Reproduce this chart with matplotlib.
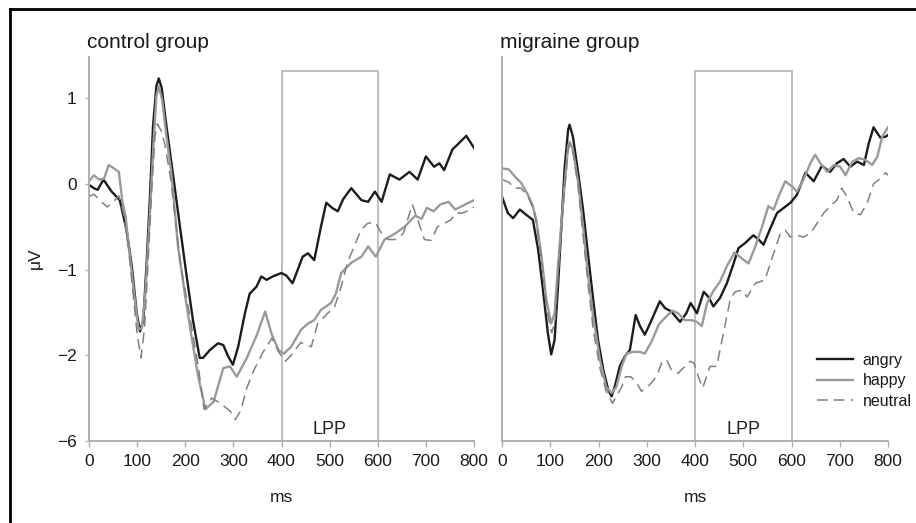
import numpy as np
import matplotlib
matplotlib.use("Agg")
import matplotlib.pyplot as plt
from matplotlib.lines import Line2D

plt.rcParams['font.family'] = ['Liberation Sans', 'DejaVu Sans']

# ---- control group (ms, µV) ----
ctrl_angry_ms = [0, 10, 18, 30, 47, 64, 78, 89, 99, 106, 113, 120, 127, 133, 140, 145, 151, 161, 175, 189,
                 203, 216, 230, 237, 251, 268, 279, 289, 299, 310, 324, 334, 348, 358, 369, 382, 400, 410, 423,
                 444, 455, 468, 482, 493, 505, 517, 528, 545, 566, 580, 594, 608, 625, 645, 666, 683, 700, 717,
                 728, 738, 755, 766, 784, 800]
ctrl_angry_uv = [-0.01, -0.05, -0.07, 0.05, -0.09, -0.19, -0.54, -0.96, -1.50, -1.72, -1.59, -0.89, -0.11, 0.67,
                 1.14, 1.23, 1.12, 0.67, 0.09, -0.50, -1.08, -1.59, -2.03, -2.03, -1.94, -1.86, -1.88, -2.01,
                 -2.11, -1.90, -1.51, -1.28, -1.20, -1.08, -1.12, -1.08, -1.04, -1.07, -1.16, -0.85, -0.81,
                 -0.89, -0.50, -0.22, -0.28, -0.32, -0.18, -0.05, -0.19, -0.21, -0.09, -0.21, 0.11, 0.05, 0.14,
                 0.05, 0.32, 0.20, 0.24, 0.16, 0.40, 0.46, 0.56, 0.42]

ctrl_happy_ms = [0, 10, 21, 31, 41, 52, 62, 69, 76, 86, 96, 103, 110, 117, 127, 134, 140, 145, 152, 161, 171,
                 185, 199, 213, 227, 242, 259, 279, 293, 307, 328, 349, 366, 380, 394, 405, 420, 441, 455, 468,
                 482, 503, 513, 524, 545, 566, 580, 596, 614, 636, 656, 678, 691, 702, 716, 730, 747, 761, 775,
                 789, 800]
ctrl_happy_uv = [0.03, 0.10, 0.05, 0.06, 0.22, 0.18, 0.14, -0.19, -0.38, -0.89, -1.39, -1.70, -1.68, -1.28,
                 -0.30, 0.47, 1.02, 1.14, 0.98, 0.55, 0.13, -0.73, -1.28, -1.78, -2.25, -2.63, -2.54, -2.15,
                 -2.13, -2.25, -2.03, -1.76, -1.49, -1.76, -1.94, -1.98, -1.90, -1.70, -1.63, -1.59, -1.47,
                 -1.39, -1.28, -1.04, -0.92, -0.85, -0.73, -0.85, -0.65, -0.58, -0.50, -0.37, -0.41, -0.28,
                 -0.32, -0.24, -0.21, -0.30, -0.26, -0.22, -0.19]

ctrl_neutral_ms = [0, 10, 24, 38, 52, 62, 72, 82, 92, 100, 108, 115, 122, 130, 137, 142, 150, 158, 170, 190,
                   213, 227, 239, 255, 273, 293, 304, 315, 328, 342, 362, 380, 394, 408, 420, 440, 462, 475,
                   496, 510, 524, 537, 551, 565, 579, 595, 608, 622, 636, 653, 672, 683, 697, 711, 724, 738,
                   752, 762, 776, 790, 800]
ctrl_neutral_uv = [-0.15, -0.12, -0.20, -0.27, -0.20, -0.14, -0.35, -0.75, -1.30, -1.75, -2.03, -1.70, -1.00,
                   -0.10, 0.55, 0.70, 0.62, 0.45, 0.05, -0.93, -1.66, -2.13, -2.63, -2.50, -2.56, -2.65, -2.75,
                   -2.65, -2.38, -2.18, -1.96, -1.80, -1.96, -2.07, -2.00, -1.85, -1.90, -1.63, -1.51, -1.44,
                   -1.20, -0.92, -0.73, -0.54, -0.46, -0.45, -0.58, -0.65, -0.65, -0.58, -0.24, -0.42, -0.65,
                   -0.66, -0.50, -0.46, -0.42, -0.34, -0.34, -0.31, -0.27]

# ---- migraine group (ms, µV) ----
migr_angry_ms = [0, 12, 23, 37, 50, 64, 75, 85, 95, 102, 109, 116, 123, 130, 137, 140, 147, 158, 168, 178,
                 189, 199, 210, 220, 227, 234, 244, 255, 265, 277, 286, 296, 310, 327, 338, 351, 369, 382,
                 391, 404, 418, 428, 438, 452, 466, 480, 490, 504, 521, 532, 542, 556, 570, 584, 598, 611,
                 629, 646, 663, 680, 694, 708, 722, 736, 750, 760, 770, 784, 795, 800]
migr_angry_uv = [-0.15, -0.34, -0.40, -0.30, -0.36, -0.42, -0.77, -1.24, -1.74, -1.99, -1.82, -1.20, -0.50,
                 0.20, 0.63, 0.69, 0.55, 0.12, -0.30, -0.81, -1.35, -1.82, -2.17, -2.40, -2.48, -2.36, -2.13,
                 -2.01, -1.94, -1.53, -1.66, -1.76, -1.59, -1.37, -1.45, -1.49, -1.61, -1.51, -1.39, -1.51,
                 -1.26, -1.32, -1.43, -1.33, -1.16, -0.93, -0.75, -0.69, -0.60, -0.65, -0.71, -0.52, -0.34,
                 -0.28, -0.22, -0.13, 0.13, 0.03, 0.21, 0.14, 0.24, 0.29, 0.20, 0.26, 0.22, 0.47, 0.66, 0.54,
                 0.55, 0.57]

migr_happy_ms = [0, 14, 26, 40, 54, 64, 71, 82, 92, 102, 109, 116, 127, 137, 140, 147, 158, 168, 178, 189,
                 203, 216, 227, 237, 248, 258, 272, 286, 296, 310, 325, 340, 353, 365, 379, 393, 404, 414,
                 425, 438, 452, 466, 482, 495, 511, 525, 539, 552, 563, 573, 587, 601, 611, 625, 639, 649,
                 660, 674, 688, 701, 712, 726, 740, 753, 767, 778, 788, 800]
migr_happy_uv = [0.18, 0.17, 0.09, 0.01, -0.13, -0.26, -0.42, -0.85, -1.35, -1.63, -1.51, -0.96, -0.19, 0.44,
                 0.49, 0.40, 0.01, -0.50, -1.04, -1.55, -2.05, -2.37, -2.44, -2.37, -2.13, -1.98, -1.96,
                 -1.96, -1.98, -1.84, -1.64, -1.55, -1.48, -1.51, -1.59, -1.59, -1.61, -1.66, -1.39, -1.25,
                 -1.14, -0.96, -0.80, -0.86, -0.93, -0.73, -0.50, -0.26, -0.30, -0.15, 0.03, -0.03, -0.09,
                 0.05, 0.24, 0.34, 0.24, 0.14, 0.22, 0.20, 0.10, 0.26, 0.30, 0.28, 0.22, 0.32, 0.55, 0.66]

migr_neutral_ms = [0, 14, 26, 40, 54, 64, 71, 82, 92, 103, 110, 117, 127, 137, 141, 148, 158, 168, 178, 189,
                   203, 216, 229, 240, 248, 256, 267, 279, 289, 305, 320, 331, 341, 351, 365, 379, 390, 398,
                   407, 416, 431, 445, 459, 473, 483, 497, 508, 525, 545, 563, 577, 587, 597, 611, 625, 639,
                   653, 667, 680, 694, 704, 715, 729, 743, 757, 770, 784, 795, 800]
migr_neutral_uv = [0.05, 0.02, -0.05, -0.05, -0.15, -0.28, -0.45, -0.90, -1.45, -1.74, -1.60, -1.00, -0.25,
                   0.40, 0.47, 0.35, -0.05, -0.60, -1.15, -1.70, -2.15, -2.42, -2.56, -2.45, -2.37, -2.25,
                   -2.25, -2.32, -2.42, -2.35, -2.25, -2.09, -2.05, -2.17, -2.21, -2.13, -2.07, -2.09, -2.25,
                   -2.38, -2.13, -2.13, -1.74, -1.35, -1.26, -1.24, -1.32, -1.16, -1.12, -0.81, -0.58, -0.54,
                   -0.62, -0.60, -0.62, -0.58, -0.46, -0.34, -0.26, -0.19, -0.05, -0.15, -0.34, -0.36, -0.22,
                   0.00, 0.06, 0.13, 0.10]

panel_titles = ['control group', 'migraine group']
cond_labels = ['angry', 'happy', 'neutral']
x_ticks = [0, 100, 200, 300, 400, 500, 600, 700, 800]
y_ticks = [-3, -2, -1, 0, 1]
y_ticklabels = ['\u22126', '\u22122', '\u22121', '0', '1']
lpp_window = (400, 600)
lpp_top = 1.32

groups = [
    [(ctrl_angry_ms, ctrl_angry_uv), (ctrl_happy_ms, ctrl_happy_uv), (ctrl_neutral_ms, ctrl_neutral_uv)],
    [(migr_angry_ms, migr_angry_uv), (migr_happy_ms, migr_happy_uv), (migr_neutral_ms, migr_neutral_uv)],
]
styles = [
    dict(color='#1c1c1c', lw=1.7, ls='-'),
    dict(color='#9a9a9a', lw=1.7, ls='-'),
    dict(color='#808080', lw=1.1, dashes=(7, 4)),
]

W, H = 916, 523
fig = plt.figure(figsize=(W / 100, H / 100), dpi=100)
fig.patch.set_facecolor('white')

ax_l = fig.add_axes([89 / W, 1 - 441 / H, 385 / W, 384 / H])
ax_r = fig.add_axes([502 / W, 1 - 441 / H, 386 / W, 384 / H])
axc = '#b0b0b0'

for k, ax in enumerate([ax_l, ax_r]):
    for j, (ms, uv) in enumerate(groups[k]):
        ax.plot(ms, uv, label=cond_labels[j], solid_joinstyle='round', **styles[j])
    ax.add_patch(plt.Rectangle((lpp_window[0], -3), lpp_window[1] - lpp_window[0], lpp_top + 3,
                               fill=False, edgecolor='#bdbdbd', lw=1.4, zorder=0.5))
    ax.text(sum(lpp_window) / 2, -2.96, 'LPP', ha='center', va='bottom', fontsize=13, color='#222222')
    ax.set_xlim(0, 800)
    ax.set_ylim(-3, 1.48)
    for s in ['top', 'right']:
        ax.spines[s].set_visible(False)
    for s in ['left', 'bottom']:
        ax.spines[s].set_color(axc)
        ax.spines[s].set_linewidth(1.4)
    ax.set_xticks(x_ticks)
    ax.set_xticklabels([str(t) for t in x_ticks])
    ax.tick_params(axis='x', colors=axc, labelcolor='#1a1a1a', labelsize=12.5, length=4, width=1, pad=5)
    if k == 0:
        ax.set_yticks(y_ticks)
        ax.set_yticklabels(y_ticklabels)
        ax.tick_params(axis='y', colors=axc, labelcolor='#1a1a1a', labelsize=12.5, length=3, width=1, pad=6)
    else:
        ax.set_yticks([])
    ax.text(-0.005, 1.023, panel_titles[k], transform=ax.transAxes, ha='left', va='baseline',
            fontsize=15, color='#1a1a1a')
    ax.text(0.5, -0.146, 'ms', transform=ax.transAxes, ha='center', va='center',
            fontsize=12.5, color='#1a1a1a')

fig.text(35 / W, 1 - 258 / H, '\u03bcV', rotation=90, ha='center', va='center', fontsize=12.5,
         color='#1a1a1a')

leg = ax_r.legend(loc='upper left', bbox_to_anchor=(817 / W, 1 - 353 / H), bbox_transform=fig.transFigure,
                  frameon=False, fontsize=11.5, handlelength=2.25, handletextpad=0.6, labelspacing=0.33,
                  borderpad=0, borderaxespad=0)
for t in leg.get_texts():
    t.set_color('#1a1a1a')

# thin frame on top and left edge, like the scanned figure
fig.add_artist(Line2D([10 / W, 10 / W], [0, 1 - 9 / H], transform=fig.transFigure, color='black', lw=2))
fig.add_artist(Line2D([10 / W, 1], [1 - 9 / H, 1 - 9 / H], transform=fig.transFigure, color='black', lw=2))

fig.savefig('out.png', dpi=100, facecolor='white')
